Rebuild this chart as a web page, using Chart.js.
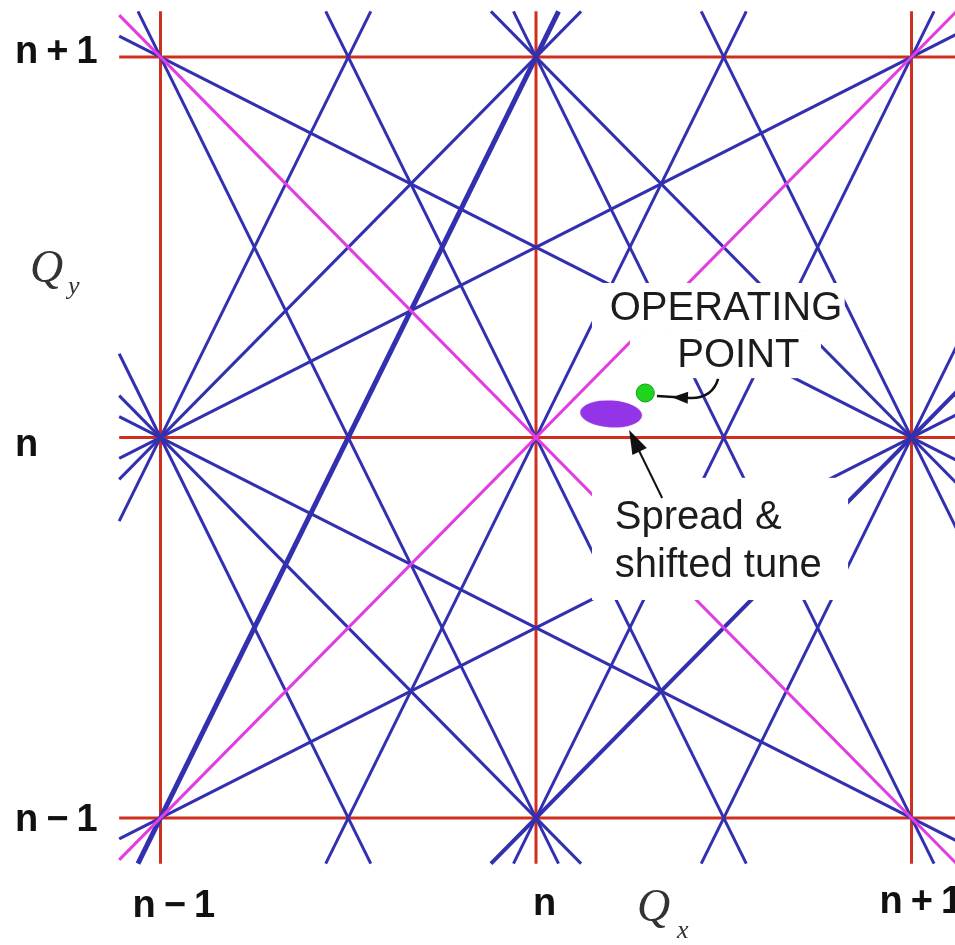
<!DOCTYPE html>
<html>
<head>
<meta charset="utf-8">
<title>Tune diagram</title>
<script src="https://cdn.jsdelivr.net/npm/chart.js@4.4.1/dist/chart.umd.min.js"></script>
<style>
  html, body { margin: 0; padding: 0; background: #fff; }
  #wrap { width: 955px; height: 945px; position: relative; }
</style>
</head>
<body>
<div id="wrap"><canvas id="tuneChart"></canvas></div>
<script>
// tune values are given as offsets from the integer n
const tickValues = [-1, 0, 1];
const qxTickLabels = ["n\u22121", "n", "n+1"];
const qyTickLabels = ["n\u22121", "n", "n+1"];

// every line is [qx1, qy1, qx2, qy2]
// integer resonances Qx = n+k, Qy = n+k
const integerLines = [
  [-1, -1.12, -1, 1.12],
  [0, -1.12, 0, 1.12],
  [1, -1.12, 1, 1.12],
  [-1.11, -1, 1.2, -1],
  [-1.11, 0, 1.2, 0],
  [-1.11, 1, 1.2, 1]
];

// the two highlighted diagonals Qx + Qy = 2n, Qx - Qy = 0
const diagonalLines = [
  [-1.11, 1.11, 1.12, -1.12],
  [-1.11, -1.11, 1.12, 1.12]
];

// 2Qx + Qy = 3n + p and 2Qx - Qy = n + p
const steepLines = [
  [-1.11, 0.22, -0.44, -1.12],
  [-1.06, 1.12, 0.06, -1.12],
  [-0.56, 1.12, 0.56, -1.12],
  [-0.06, 1.12, 1.06, -1.12],
  [0.44, 1.12, 1.12, -0.24],
  [-1.11, -0.22, -0.44, 1.12],
  [-0.56, -1.12, 0.56, 1.12],
  [-0.06, -1.12, 1.06, 1.12],
  [0.44, -1.12, 1.12, 0.24]
];

// Qx + Qy = 2n +- 1 and Qx - Qy = +-1
const unitLines = [
  [-0.12, 1.12, 1.12, -0.12],
  [-1.11, 0.11, 0.12, -1.12],
  [-1.11, -0.11, 0.12, 1.12]
];

// Qx + 2Qy = 3n +- 1 and Qx - 2Qy = -n +- 1
const shallowLines = [
  [-1.11, 0.055, 1.12, -1.06],
  [-1.11, 1.055, 1.12, -0.06],
  [-1.11, -0.055, 1.12, 1.06],
  [-1.11, -1.055, 1.12, 0.06]
];

// lines printed heavier in the figure
const heavyLines = [
  [-1.06, -1.12, 0.06, 1.12]
];
const mediumLines = [
  [-0.12, -1.12, 1.12, 0.12]
];

const operatingPoint = [{ x: 0.291, y: 0.117 }];
const tuneSpread = [{ x: 0.2, y: 0.062 }];

const RED = "#cf301e";
const BLUE = "#3330b0";
const MAGENTA = "#e03ee0";

function segment(line, color, width, order) {
  return {
    data: [{ x: line[0], y: line[1] }, { x: line[2], y: line[3] }],
    showLine: true,
    borderColor: color,
    borderWidth: width,
    borderCapStyle: "butt",
    pointRadius: 0,
    order: order
  };
}

function blobStyle() {
  const c = document.createElement("canvas");
  c.width = 66;
  c.height = 32;
  const g = c.getContext("2d");
  g.fillStyle = "#9334e6";
  g.beginPath();
  g.ellipse(33, 16, 31, 13.5, 0.06, 0, Math.PI * 2);
  g.fill();
  return c;
}

const datasets = [];
operatingPoint.forEach(p => datasets.push({
  data: [p], pointRadius: 9, pointBackgroundColor: "#1ed41e",
  pointBorderColor: "#12a012", pointBorderWidth: 1, order: 0
}));
tuneSpread.forEach(p => datasets.push({
  data: [p], pointRadius: 12, pointStyle: blobStyle(), order: 0
}));
diagonalLines.forEach(l => datasets.push(segment(l, MAGENTA, 3, 1)));
steepLines.forEach(l => datasets.push(segment(l, BLUE, 3, 2)));
unitLines.forEach(l => datasets.push(segment(l, BLUE, 3, 2)));
shallowLines.forEach(l => datasets.push(segment(l, BLUE, 3, 2)));
heavyLines.forEach(l => datasets.push(segment(l, BLUE, 5, 2)));
mediumLines.forEach(l => datasets.push(segment(l, BLUE, 4, 2)));
integerLines.forEach(l => datasets.push(segment(l, RED, 3, 3)));

function arrowHead(ctx, tx, ty, fx, fy, len, half) {
  const a = Math.atan2(ty - fy, tx - fx);
  const bx = tx - len * Math.cos(a), by = ty - len * Math.sin(a);
  ctx.beginPath();
  ctx.moveTo(tx, ty);
  ctx.lineTo(bx + half * Math.sin(a), by - half * Math.cos(a));
  ctx.lineTo(bx - half * Math.sin(a), by + half * Math.cos(a));
  ctx.closePath();
  ctx.fill();
}

const labelPlugin = {
  id: "tuneLabels",
  beforeDraw(chart) {
    const ctx = chart.ctx;
    ctx.save();
    ctx.fillStyle = "#fff";
    ctx.fillRect(0, 0, chart.width, chart.height);
    ctx.restore();
  },
  afterDatasetsDraw(chart) {
    const { ctx, scales } = chart;
    const px = v => scales.x.getPixelForValue(v);
    const py = v => scales.y.getPixelForValue(v);
    ctx.save();

    // white panels behind the annotation text
    ctx.fillStyle = "#fff";
    [[0.149, 0.406, 0.822, 0.280], [0.250, 0.280, 0.759, 0.156], [0.149, -0.106, 0.831, -0.427]]
      .forEach(([u1, v1, u2, v2]) => ctx.fillRect(px(u1), py(v1), px(u2) - px(u1), py(v2) - py(v1)));

    // tick labels
    ctx.fillStyle = "#111";
    ctx.font = "bold 38px 'Liberation Sans', Arial, sans-serif";
    ctx.textAlign = "left";
    ctx.textBaseline = "alphabetic";
    ctx.letterSpacing = "8px";
    const leftDy = [13, 19, 6];
    qyTickLabels.forEach((t, i) => ctx.fillText(t, 15, py(tickValues[i]) + leftDy[i]));
    const bottomDx = [-28, -3, -32];
    const bottomY = [917, 915, 913];
    qxTickLabels.forEach((t, i) => ctx.fillText(t, px(tickValues[i]) + bottomDx[i], bottomY[i]));
    ctx.letterSpacing = "0px";

    // axis titles
    ctx.fillStyle = "#333";
    ctx.font = "italic 46px 'Liberation Serif', 'Times New Roman', serif";
    ctx.fillText("Q", 30, 282);
    ctx.fillText("Q", 637, 921);
    ctx.font = "italic 26px 'Liberation Serif', 'Times New Roman', serif";
    ctx.fillText("y", 68, 294);
    ctx.fillText("x", 677, 938);

    // annotation text
    ctx.fillStyle = "#1c1c1c";
    ctx.font = "40px 'Liberation Sans', Arial, sans-serif";
    ctx.textAlign = "center";
    ctx.fillText("OPERATING", px(0.506), py(0.309));
    ctx.fillText("POINT", px(0.539), py(0.185));
    ctx.textAlign = "left";
    ctx.fillText("Spread &", px(0.21), py(-0.24));
    ctx.fillText("shifted tune", px(0.21), py(-0.367));

    // arrow to the operating point
    ctx.strokeStyle = "#111";
    ctx.fillStyle = "#111";
    ctx.lineWidth = 2.5;
    ctx.beginPath();
    ctx.moveTo(px(0.485), py(0.154));
    ctx.quadraticCurveTo(px(0.469), py(0.102), px(0.41), py(0.104));
    ctx.lineTo(px(0.322), py(0.109));
    ctx.stroke();
    arrowHead(ctx, px(0.362), py(0.106), px(0.41), py(0.104), 16, 6);

    // arrow to the tune spread
    ctx.lineWidth = 2;
    ctx.beginPath();
    ctx.moveTo(px(0.336), py(-0.159));
    ctx.lineTo(px(0.262), py(-0.01));
    ctx.stroke();
    arrowHead(ctx, px(0.248), py(0.02), px(0.336), py(-0.159), 24, 8);

    ctx.restore();
  }
};

new Chart(document.getElementById("tuneChart"), {
  type: "scatter",
  data: { datasets: datasets },
  options: {
    responsive: true,
    maintainAspectRatio: false,
    animation: false,
    layout: { padding: 0, autoPadding: false },
    plugins: { legend: { display: false }, tooltip: { enabled: false } },
    events: [],
    scales: {
      x: { type: "linear", min: -1.4274, max: 1.1158, display: false },
      y: { type: "linear", min: -1.3338, max: 1.1498, display: false }
    }
  },
  plugins: [labelPlugin]
});
</script>
</body>
</html>
